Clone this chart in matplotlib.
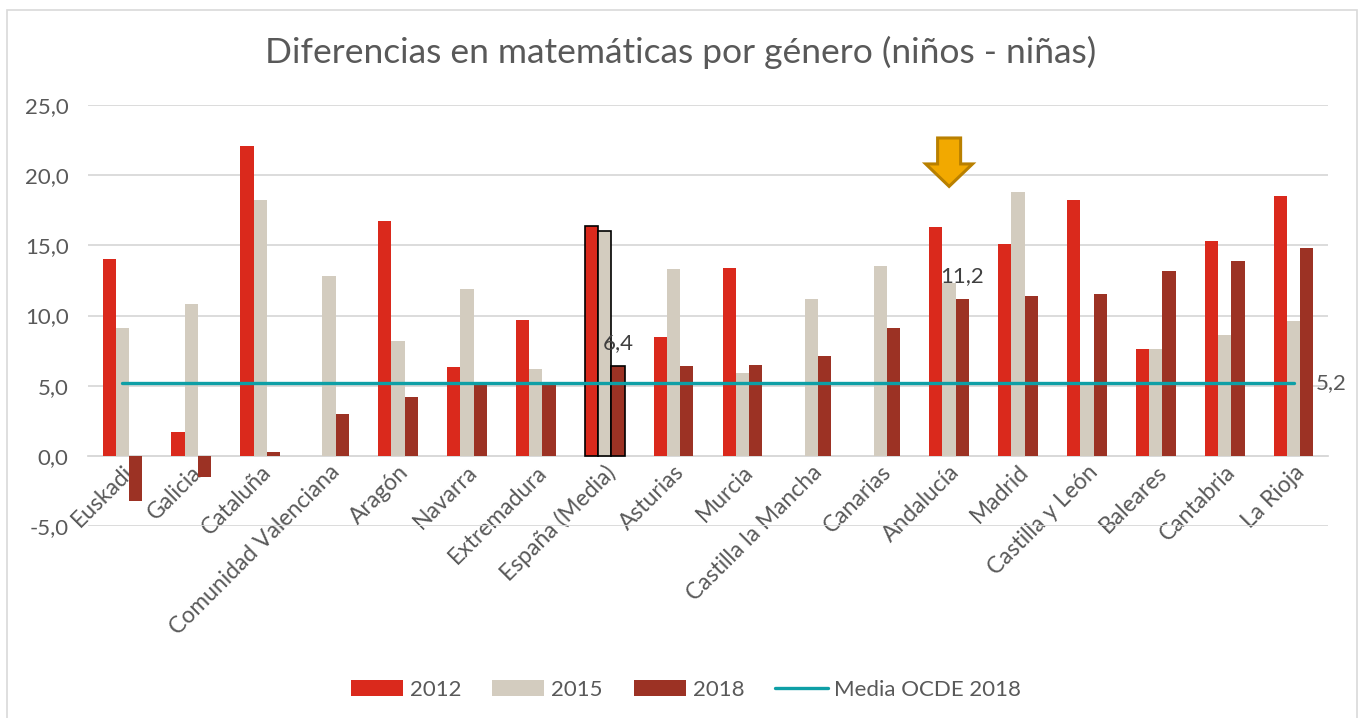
import matplotlib
matplotlib.use("Agg")
import matplotlib.pyplot as plt
import numpy as np
from matplotlib.patches import Rectangle, Polygon

plt.rcParams['font.family'] = ['Lato', 'DejaVu Sans']

categories = ["Euskadi", "Galicia", "Cataluña", "Comunidad Valenciana", "Aragón",
              "Navarra", "Extremadura", "España (Media)", "Asturias", "Murcia",
              "Castilla la Mancha", "Canarias", "Andalucía", "Madrid",
              "Castilla y León", "Baleares", "Cantabria", "La Rioja"]
v2012 = [14.0, 1.7, 22.1, 0.0, 16.7, 6.3, 9.7, 16.4, 8.5, 13.4,
         0.0, 0.0, 16.3, 15.1, 18.2, 7.6, 15.3, 18.5]
v2015 = [9.1, 10.8, 18.2, 12.8, 8.2, 11.9, 6.2, 16.0, 13.3, 5.9,
         11.2, 13.5, 12.3, 18.8, 5.1, 7.6, 8.6, 9.6]
v2018 = [-3.2, -1.5, 0.3, 3.0, 4.2, 5.1, 5.1, 6.4, 6.4, 6.5,
         7.1, 9.1, 11.2, 11.4, 11.5, 13.2, 13.9, 14.8]
ocde_2018 = 5.2
yticks = [-5, 0, 5, 10, 15, 20, 25]
title = "Diferencias en matemáticas por género (niños - niñas)"
highlight = "España (Media)"
labelled = {"España (Media)": 6.4, "Andalucía": 11.2}

C2012 = "#DA291C"
C2015 = "#D3CCBF"
C2018 = "#9C3224"
CLINE = "#0E9FA6"
TXT = "#595959"
GRID = "#D9D9D9"

W, H = 1362, 718
fig = plt.figure(figsize=(W / 100, H / 100), dpi=100)
fig.patches.append(Rectangle((7 / W, -0.01), (1357 - 7) / W, (H - 9.5) / H + 0.01,
                             transform=fig.transFigure, fill=False,
                             edgecolor=GRID, linewidth=1.2))

left, right, top, bottom = 88, 1328, 105, 526
ax = fig.add_axes([left / W, 1 - bottom / H, (right - left) / W, (bottom - top) / H])

x = np.arange(len(categories))
bw = 0.193
edge_hl = ['black' if c == highlight else 'none' for c in categories]
lw_hl = [1.2 if c == highlight else 0 for c in categories]
b1 = ax.bar(x - bw, v2012, bw, color=C2012, edgecolor=edge_hl, linewidth=lw_hl, label="2012", zorder=3)
b2 = ax.bar(x, v2015, bw, color=C2015, edgecolor=edge_hl, linewidth=lw_hl, label="2015", zorder=3)
b3 = ax.bar(x + bw, v2018, bw, color=C2018, edgecolor=edge_hl, linewidth=lw_hl, label="2018", zorder=3)

ln, = ax.plot([x[0], x[-1]], [ocde_2018, ocde_2018], color=CLINE, linewidth=2.4,
              solid_capstyle='round', label="Media OCDE 2018", zorder=4)
ax.annotate(f"{ocde_2018:.1f}".replace('.', ','), (x[-1], ocde_2018),
            xytext=(16, 0), textcoords='offset points', ha='left', va='center',
            fontsize=16, color=TXT)

for cat, val in labelled.items():
    i = categories.index(cat)
    ax.annotate(f"{val:.1f}".replace('.', ','), (i + bw, val),
                xytext=(0, 9), textcoords='offset points', ha='center', va='bottom',
                fontsize=16, color="#404040", zorder=5)

# orange down arrow above Andalucía
ia = categories.index("Andalucía")
sh, hh = 0.167, 0.34
ytop, yhead, ytip = 22.65, 20.8, 19.2
arrow = Polygon([(ia - sh, ytop), (ia + sh, ytop), (ia + sh, yhead), (ia + hh, yhead),
                 (ia, ytip), (ia - hh, yhead), (ia - sh, yhead)], closed=True,
                facecolor="#F2A900", edgecolor="#B98000", linewidth=2.2, zorder=6,
                clip_on=False)
ax.add_patch(arrow)

ax.set_xlim(-0.5, len(categories) - 0.5)
ax.set_ylim(-5, 25)
ax.set_yticks(yticks)
ax.set_yticklabels([f"{t:.1f}".replace('.', ',') for t in yticks], fontsize=16, color=TXT)
ax.grid(axis='y', color=GRID, linewidth=1.3, zorder=0)
ax.set_axisbelow(True)
for s in ['top', 'right', 'left']:
    ax.spines[s].set_visible(False)
ax.spines['bottom'].set_position(('data', 0))
ax.spines['bottom'].set_color(GRID)
ax.spines['bottom'].set_linewidth(1.3)
ax.set_xticks(x)
ax.set_xticklabels(categories, rotation=45, ha='right', rotation_mode='anchor',
                   fontsize=16.5, color=TXT)
ax.tick_params(axis='x', length=0, pad=4)
ax.tick_params(axis='y', length=0, pad=14)

fig.text(0.5, 1 - 52 / H, title, ha='center', va='center', fontsize=25.5, color=TXT)

fig.legend([b1, b2, b3, ln], ["2012", "2015", "2018", "Media OCDE 2018"],
           loc='center', bbox_to_anchor=(686 / W, 1 - 690 / H), ncol=4,
           frameon=False, fontsize=16, labelcolor=TXT, handlelength=2.35,
           handleheight=0.7, columnspacing=1.4, handletextpad=0.3)

fig.savefig("out.png", dpi=100)
